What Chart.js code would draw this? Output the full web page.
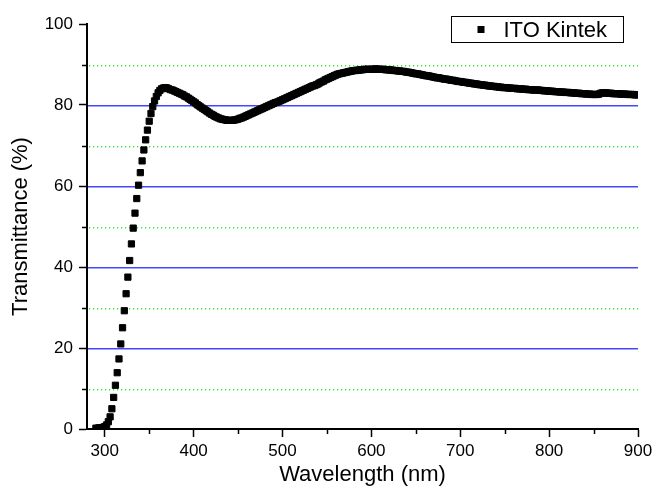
<!DOCTYPE html>
<html>
<head>
<meta charset="utf-8">
<script src="https://cdn.jsdelivr.net/npm/chart.js@4"></script>
<style>
  html, body { margin: 0; padding: 0; background: #fff; }
</style>
</head>
<body>
<canvas id="itoChart" width="658" height="488"></canvas>
<script>
// wavelength (nm) of each measured point
var wavelengths = [
  290, 292, 294, 296, 298, 300, 302, 304, 306, 308,
  310, 312, 314, 316, 318, 320, 322, 324, 326, 328,
  330, 332, 334, 336, 338, 340, 342, 344, 346, 348,
  350, 352, 354, 356, 358, 360, 362, 364, 366, 368,
  370, 372, 374, 376, 378, 380, 382, 384, 386, 388,
  390, 392, 394, 396, 398, 400, 402, 404, 406, 408,
  410, 412, 414, 416, 418, 420, 422, 424, 426, 428,
  430, 432, 434, 436, 438, 440, 442, 444, 446, 448,
  450, 452, 454, 456, 458, 460, 462, 464, 466, 468,
  470, 472, 474, 476, 478, 480, 482, 484, 486, 488,
  490, 492, 494, 496, 498, 500, 502, 504, 506, 508,
  510, 512, 514, 516, 518, 520, 522, 524, 526, 528,
  530, 532, 534, 536, 538, 540, 542, 544, 546, 548,
  550, 552, 554, 556, 558, 560, 562, 564, 566, 568,
  570, 572, 574, 576, 578, 580, 582, 584, 586, 588,
  590, 592, 594, 596, 598, 600, 602, 604, 606, 608,
  610, 612, 614, 616, 618, 620, 622, 624, 626, 628,
  630, 632, 634, 636, 638, 640, 642, 644, 646, 648,
  650, 652, 654, 656, 658, 660, 662, 664, 666, 668,
  670, 672, 674, 676, 678, 680, 682, 684, 686, 688,
  690, 692, 694, 696, 698, 700, 702, 704, 706, 708,
  710, 712, 714, 716, 718, 720, 722, 724, 726, 728,
  730, 732, 734, 736, 738, 740, 742, 744, 746, 748,
  750, 752, 754, 756, 758, 760, 762, 764, 766, 768,
  770, 772, 774, 776, 778, 780, 782, 784, 786, 788,
  790, 792, 794, 796, 798, 800, 802, 804, 806, 808,
  810, 812, 814, 816, 818, 820, 822, 824, 826, 828,
  830, 832, 834, 836, 838, 840, 842, 844, 846, 848,
  850, 852, 854, 856, 858, 860, 862, 864, 866, 868,
  870, 872, 874, 876, 878, 880, 882, 884, 886, 888,
  890, 892, 894, 896, 898, 900
];
// transmittance (%)
var transmittance = [
  0.2, 0.2, 0.3, 0.3, 0.4, 0.6, 1.0, 1.8, 3.0, 5.0,
  7.8, 10.8, 13.9, 17.3, 21.0, 25.0, 29.2, 33.4, 37.5, 41.6,
  45.7, 49.6, 53.3, 56.9, 60.2, 63.3, 66.2, 68.9, 71.4, 73.8,
  76.0, 77.9, 79.6, 81.0, 82.1, 83.0, 83.6, 84.0, 84.2, 84.3,
  84.2, 84.0, 83.8, 83.7, 83.5, 83.3, 83.1, 82.9, 82.7, 82.5,
  82.2, 82.0, 81.7, 81.4, 81.1, 80.8, 80.5, 80.1, 79.8, 79.5,
  79.2, 78.9, 78.6, 78.3, 78.0, 77.7, 77.5, 77.2, 77.0, 76.8,
  76.6, 76.5, 76.4, 76.3, 76.2, 76.2, 76.2, 76.2, 76.3, 76.4,
  76.5, 76.7, 76.8, 77.0, 77.2, 77.4, 77.6, 77.8, 78.0, 78.2,
  78.4, 78.6, 78.8, 79.0, 79.2, 79.4, 79.6, 79.8, 80.0, 80.2,
  80.4, 80.6, 80.7, 80.9, 81.1, 81.3, 81.5, 81.7, 81.9, 82.1,
  82.3, 82.5, 82.7, 82.9, 83.1, 83.3, 83.5, 83.7, 83.9, 84.1,
  84.3, 84.5, 84.7, 84.8, 85.0, 85.2, 85.5, 85.7, 85.9, 86.2,
  86.4, 86.6, 86.8, 87.0, 87.2, 87.4, 87.6, 87.7, 87.8, 87.9,
  88.0, 88.1, 88.2, 88.3, 88.4, 88.5, 88.5, 88.6, 88.6, 88.7,
  88.7, 88.8, 88.8, 88.8, 88.8, 88.8, 88.8, 88.9, 88.9, 88.8,
  88.8, 88.8, 88.8, 88.7, 88.7, 88.7, 88.6, 88.6, 88.5, 88.5,
  88.4, 88.4, 88.3, 88.3, 88.2, 88.1, 88.1, 88.0, 87.9, 87.8,
  87.7, 87.7, 87.6, 87.5, 87.4, 87.3, 87.2, 87.2, 87.1, 87.0,
  86.9, 86.8, 86.7, 86.7, 86.6, 86.5, 86.4, 86.4, 86.3, 86.2,
  86.1, 86.1, 86.0, 85.9, 85.8, 85.8, 85.7, 85.6, 85.6, 85.5,
  85.4, 85.4, 85.3, 85.2, 85.2, 85.1, 85.0, 85.0, 84.9, 84.9,
  84.8, 84.7, 84.7, 84.6, 84.6, 84.5, 84.5, 84.4, 84.4, 84.3,
  84.3, 84.3, 84.2, 84.2, 84.1, 84.1, 84.1, 84.0, 84.0, 84.0,
  83.9, 83.9, 83.9, 83.8, 83.8, 83.8, 83.7, 83.7, 83.7, 83.7,
  83.6, 83.6, 83.5, 83.5, 83.5, 83.4, 83.4, 83.4, 83.3, 83.3,
  83.3, 83.2, 83.2, 83.2, 83.1, 83.1, 83.1, 83.0, 83.0, 83.0,
  82.9, 82.9, 82.9, 82.8, 82.8, 82.8, 82.7, 82.7, 82.7, 82.6,
  82.6, 82.6, 82.6, 82.7, 82.9, 83.0, 83.0, 83.0, 82.9, 82.9,
  82.9, 82.8, 82.8, 82.8, 82.8, 82.7, 82.7, 82.7, 82.7, 82.6,
  82.6, 82.6, 82.6, 82.5, 82.5, 82.5
];
var xTicks = [300, 400, 500, 600, 700, 800, 900];
var xMinorTicks = [350, 450, 550, 650, 750, 850];
var yTicks = [0, 20, 40, 60, 80, 100];
var yMajorGrid = [20, 40, 60, 80];
var yMinorTicks = [10, 30, 50, 70, 90];
var seriesName = "ITO Kintek";

var fontFamily = "'Liberation Sans', Arial, sans-serif";

// grid lines (blue major, green dotted minor), minor tick marks and the boxed legend
var extrasPlugin = {
  id: 'extras',
  beforeDatasetsDraw: function (chart) {
    var ctx = chart.ctx, a = chart.chartArea;
    var xs = chart.scales.x, ys = chart.scales.y;
    ctx.save();
    // slightly wider than 1px so the colour survives on any pixel row
    ctx.lineWidth = 1.4;
    ctx.strokeStyle = '#4646ff';
    yMajorGrid.forEach(function (v) {
      var py = Math.round(ys.getPixelForValue(v)) + 0.7;
      ctx.beginPath();
      ctx.moveTo(a.left + 1, py);
      ctx.lineTo(a.right, py);
      ctx.stroke();
    });
    ctx.strokeStyle = '#33e633';
    ctx.setLineDash([1.2, 2.8]);
    yMinorTicks.forEach(function (v) {
      var py = Math.round(ys.getPixelForValue(v)) + 0.7;
      ctx.beginPath();
      ctx.moveTo(a.left + 2, py);
      ctx.lineTo(a.right, py);
      ctx.stroke();
    });
    ctx.setLineDash([]);
    ctx.strokeStyle = '#000';
    ctx.lineWidth = 1.5;
    yMinorTicks.forEach(function (v) {
      var py = Math.round(ys.getPixelForValue(v)) + 0.5;
      ctx.beginPath();
      ctx.moveTo(a.left - 5, py);
      ctx.lineTo(a.left, py);
      ctx.stroke();
    });
    xMinorTicks.forEach(function (v) {
      var px = Math.round(xs.getPixelForValue(v)) + 0.5;
      ctx.beginPath();
      ctx.moveTo(px, a.bottom);
      ctx.lineTo(px, a.bottom + 5);
      ctx.stroke();
    });
    ctx.restore();
  },
  afterDraw: function (chart) {
    var ctx = chart.ctx, a = chart.chartArea;
    var boxW = 172, boxH = 26;
    var bx = Math.round(a.right - 15 - boxW) + 0.5;
    var by = Math.round(a.top - 8) + 0.5;
    ctx.save();
    ctx.fillStyle = '#fff';
    ctx.fillRect(bx, by, boxW, boxH);
    ctx.strokeStyle = '#000';
    ctx.lineWidth = 1;
    ctx.strokeRect(bx, by, boxW, boxH);
    ctx.fillStyle = '#000';
    ctx.fillRect(bx + 26, by + 13 - 3.5, 7, 7);
    ctx.font = "22px " + fontFamily;
    ctx.textBaseline = 'middle';
    ctx.textAlign = 'left';
    ctx.fillText(chart.data.datasets[0].label, bx + 52, by + 14);
    ctx.restore();
  }
};

var points = wavelengths.map(function (w, i) { return { x: w, y: transmittance[i] }; });

var ctx = document.getElementById("itoChart").getContext("2d");
var itoChart = new Chart(ctx, {
  type: 'scatter',
  data: {
    datasets: [{
      label: seriesName,
      data: points,
      showLine: false,
      pointStyle: 'rect',
      pointRadius: 4.4,
      pointBorderWidth: 1,
      backgroundColor: '#000',
      borderColor: '#000'
    }]
  },
  options: {
    responsive: false,
    animation: false,
    devicePixelRatio: 1,
    layout: { padding: { left: 0, right: 20, top: 24, bottom: 0 } },
    plugins: {
      legend: { display: false },
      tooltip: { enabled: false }
    },
    scales: {
      x: {
        type: 'linear',
        min: 280,
        max: 900,
        afterBuildTicks: function (axis) { axis.ticks = xTicks.map(function (v) { return { value: v }; }); },
        afterFit: function (axis) { axis.height = 59; },
        grid: { drawOnChartArea: false, drawTicks: true, tickLength: 8, tickColor: '#000', tickWidth: 1.5 },
        border: { color: '#000', width: 2 },
        ticks: {
          color: '#000', padding: 4, maxRotation: 0, autoSkip: false,
          font: { family: fontFamily, size: 17 }
        },
        title: {
          display: true, text: 'Wavelength (nm)', color: '#000',
          font: { family: fontFamily, size: 22 },
          padding: { top: 0, bottom: 0 }
        }
      },
      y: {
        type: 'linear',
        min: 0,
        max: 100,
        afterBuildTicks: function (axis) { axis.ticks = yTicks.map(function (v) { return { value: v }; }); },
        afterFit: function (axis) { axis.width = 87; },
        grid: { drawOnChartArea: false, drawTicks: true, tickColor: '#000', tickLength: 8, tickWidth: 1.5 },
        border: { color: '#000', width: 2 },
        ticks: {
          color: '#000', padding: 6,
          font: { family: fontFamily, size: 17 }
        },
        title: {
          display: true, text: 'Transmittance (%)', color: '#000',
          font: { family: fontFamily, size: 22 },
          padding: { top: 8, bottom: 0 }
        }
      }
    }
  },
  plugins: [extrasPlugin]
});
</script>
</body>
</html>
